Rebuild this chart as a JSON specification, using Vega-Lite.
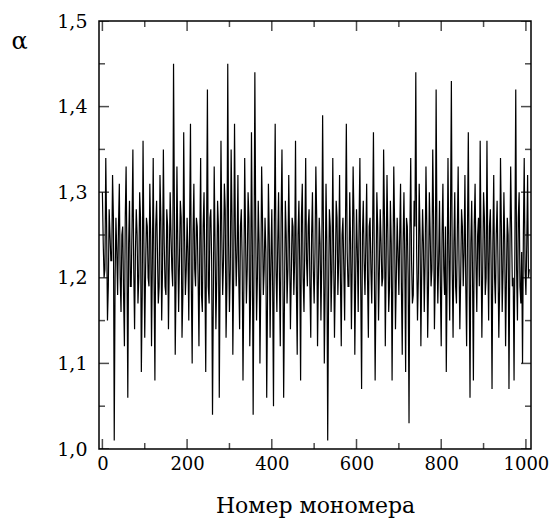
{
  "$schema": "https://vega.github.io/schema/vega-lite/v6.json",
  "width": 432,
  "height": 428,
  "autosize": "none",
  "padding": {"left": 99, "top": 21, "right": 19, "bottom": 71},
  "background": "white",
  "config": {
    "view": {"stroke": "black", "strokeWidth": 1.5},
    "axis": {"grid": false, "domain": false, "ticks": false, "labelFont": "DejaVu Serif", "labelColor": "black", "titleFont": "DejaVu Serif", "titleColor": "black", "titleFontWeight": "normal"}
  },
  "datasets": {
    "xticks": [{"v":0,"major":true},{"v":100,"major":false},{"v":200,"major":true},{"v":300,"major":false},{"v":400,"major":true},{"v":500,"major":false},{"v":600,"major":true},{"v":700,"major":false},{"v":800,"major":true},{"v":900,"major":false},{"v":1000,"major":true}],
    "yticks": [{"v":1.0,"major":true},{"v":1.05,"major":false},{"v":1.1,"major":true},{"v":1.15,"major":false},{"v":1.2,"major":true},{"v":1.25,"major":false},{"v":1.3,"major":true},{"v":1.35,"major":false},{"v":1.4,"major":true},{"v":1.45,"major":false},{"v":1.5,"major":true}],
    "series": [
    {"m":0,"a":1.30},{"m":4,"a":1.20},{"m":8,"a":1.34},{"m":12,"a":1.15},{"m":16,"a":1.28},{"m":20,"a":1.22},{"m":24,"a":1.32},{"m":28,"a":1.01},{"m":32,"a":1.27},{"m":36,"a":1.18},
    {"m":40,"a":1.31},{"m":44,"a":1.16},{"m":48,"a":1.26},{"m":52,"a":1.12},{"m":56,"a":1.33},{"m":60,"a":1.06},{"m":64,"a":1.29},{"m":68,"a":1.19},{"m":72,"a":1.35},{"m":76,"a":1.14},
    {"m":80,"a":1.28},{"m":84,"a":1.17},{"m":88,"a":1.30},{"m":92,"a":1.09},{"m":96,"a":1.36},{"m":100,"a":1.13},{"m":104,"a":1.27},{"m":108,"a":1.20},{"m":112,"a":1.31},{"m":116,"a":1.12},
    {"m":120,"a":1.34},{"m":124,"a":1.08},{"m":128,"a":1.29},{"m":132,"a":1.17},{"m":136,"a":1.32},{"m":140,"a":1.15},{"m":144,"a":1.35},{"m":148,"a":1.19},{"m":152,"a":1.28},{"m":156,"a":1.14},
    {"m":160,"a":1.30},{"m":164,"a":1.21},{"m":168,"a":1.45},{"m":172,"a":1.11},{"m":176,"a":1.33},{"m":180,"a":1.16},{"m":184,"a":1.29},{"m":188,"a":1.13},{"m":192,"a":1.37},{"m":196,"a":1.18},
    {"m":200,"a":1.27},{"m":204,"a":1.15},{"m":208,"a":1.38},{"m":212,"a":1.10},{"m":216,"a":1.31},{"m":220,"a":1.19},{"m":224,"a":1.26},{"m":228,"a":1.12},{"m":232,"a":1.34},{"m":236,"a":1.16},
    {"m":240,"a":1.30},{"m":244,"a":1.09},{"m":248,"a":1.42},{"m":252,"a":1.17},{"m":256,"a":1.28},{"m":260,"a":1.04},{"m":264,"a":1.33},{"m":268,"a":1.14},{"m":272,"a":1.29},{"m":276,"a":1.06},
    {"m":280,"a":1.36},{"m":284,"a":1.18},{"m":288,"a":1.31},{"m":292,"a":1.13},{"m":296,"a":1.45},{"m":300,"a":1.16},{"m":304,"a":1.35},{"m":308,"a":1.11},{"m":312,"a":1.38},{"m":316,"a":1.19},
    {"m":320,"a":1.32},{"m":324,"a":1.14},{"m":328,"a":1.28},{"m":332,"a":1.08},{"m":336,"a":1.34},{"m":340,"a":1.17},{"m":344,"a":1.30},{"m":348,"a":1.12},{"m":352,"a":1.37},{"m":356,"a":1.04},
    {"m":360,"a":1.44},{"m":364,"a":1.15},{"m":368,"a":1.29},{"m":372,"a":1.10},{"m":376,"a":1.33},{"m":380,"a":1.18},{"m":384,"a":1.27},{"m":388,"a":1.06},{"m":392,"a":1.31},{"m":396,"a":1.13},
    {"m":400,"a":1.28},{"m":404,"a":1.05},{"m":408,"a":1.38},{"m":412,"a":1.16},{"m":416,"a":1.30},{"m":420,"a":1.12},{"m":424,"a":1.35},{"m":428,"a":1.06},{"m":432,"a":1.29},{"m":436,"a":1.17},
    {"m":440,"a":1.32},{"m":444,"a":1.14},{"m":448,"a":1.27},{"m":452,"a":1.18},{"m":456,"a":1.36},{"m":460,"a":1.11},{"m":464,"a":1.29},{"m":468,"a":1.08},{"m":472,"a":1.31},{"m":476,"a":1.16},
    {"m":480,"a":1.34},{"m":484,"a":1.19},{"m":488,"a":1.28},{"m":492,"a":1.13},{"m":496,"a":1.30},{"m":500,"a":1.17},{"m":504,"a":1.33},{"m":508,"a":1.12},{"m":512,"a":1.27},{"m":516,"a":1.15},
    {"m":520,"a":1.39},{"m":524,"a":1.10},{"m":528,"a":1.31},{"m":532,"a":1.01},{"m":536,"a":1.28},{"m":540,"a":1.16},{"m":544,"a":1.34},{"m":548,"a":1.13},{"m":552,"a":1.29},{"m":556,"a":1.18},
    {"m":560,"a":1.32},{"m":564,"a":1.12},{"m":568,"a":1.27},{"m":572,"a":1.15},{"m":576,"a":1.38},{"m":580,"a":1.19},{"m":584,"a":1.30},{"m":588,"a":1.14},{"m":592,"a":1.33},{"m":596,"a":1.11},
    {"m":600,"a":1.28},{"m":604,"a":1.16},{"m":608,"a":1.34},{"m":612,"a":1.07},{"m":616,"a":1.29},{"m":620,"a":1.18},{"m":624,"a":1.31},{"m":628,"a":1.13},{"m":632,"a":1.27},{"m":636,"a":1.17},
    {"m":640,"a":1.37},{"m":644,"a":1.08},{"m":648,"a":1.30},{"m":652,"a":1.15},{"m":656,"a":1.28},{"m":660,"a":1.19},{"m":664,"a":1.35},{"m":668,"a":1.12},{"m":672,"a":1.32},{"m":676,"a":1.16},
    {"m":680,"a":1.29},{"m":684,"a":1.08},{"m":688,"a":1.33},{"m":692,"a":1.14},{"m":696,"a":1.27},{"m":700,"a":1.18},{"m":704,"a":1.31},{"m":708,"a":1.11},{"m":712,"a":1.30},{"m":716,"a":1.09},
    {"m":720,"a":1.26},{"m":724,"a":1.03},{"m":728,"a":1.34},{"m":732,"a":1.17},{"m":736,"a":1.29},{"m":740,"a":1.44},{"m":744,"a":1.15},{"m":748,"a":1.31},{"m":752,"a":1.12},{"m":756,"a":1.28},
    {"m":760,"a":1.16},{"m":764,"a":1.33},{"m":768,"a":1.13},{"m":772,"a":1.30},{"m":776,"a":1.19},{"m":780,"a":1.35},{"m":784,"a":1.14},{"m":788,"a":1.42},{"m":792,"a":1.17},{"m":796,"a":1.29},
    {"m":800,"a":1.12},{"m":804,"a":1.31},{"m":808,"a":1.18},{"m":812,"a":1.09},{"m":816,"a":1.34},{"m":820,"a":1.15},{"m":824,"a":1.43},{"m":828,"a":1.13},{"m":832,"a":1.30},{"m":836,"a":1.17},
    {"m":840,"a":1.33},{"m":844,"a":1.14},{"m":848,"a":1.28},{"m":852,"a":1.19},{"m":856,"a":1.32},{"m":860,"a":1.12},{"m":864,"a":1.37},{"m":868,"a":1.06},{"m":872,"a":1.29},{"m":876,"a":1.08},
    {"m":880,"a":1.31},{"m":884,"a":1.16},{"m":888,"a":1.27},{"m":892,"a":1.36},{"m":896,"a":1.13},{"m":900,"a":1.30},{"m":904,"a":1.18},{"m":908,"a":1.36},{"m":912,"a":1.15},{"m":916,"a":1.28},
    {"m":920,"a":1.07},{"m":924,"a":1.32},{"m":928,"a":1.17},{"m":932,"a":1.29},{"m":936,"a":1.13},{"m":940,"a":1.34},{"m":944,"a":1.16},{"m":948,"a":1.30},{"m":952,"a":1.12},{"m":956,"a":1.27},
    {"m":960,"a":1.07},{"m":964,"a":1.33},{"m":968,"a":1.19},{"m":972,"a":1.08},{"m":976,"a":1.42},{"m":980,"a":1.15},{"m":984,"a":1.30},{"m":988,"a":1.17},{"m":992,"a":1.10},{"m":996,"a":1.34},
    {"m":1000,"a":1.18},{"m":1004,"a":1.32},{"m":1008,"a":1.21},
    {"m":2,"a":1.24},{"m":6,"a":1.21},{"m":10,"a":1.26},{"m":14,"a":1.19},{"m":18,"a":1.25},{"m":22,"a":1.22},{"m":26,"a":1.27},{"m":30,"a":1.20},{"m":34,"a":1.23},{"m":38,"a":1.26},
    {"m":42,"a":1.20},{"m":46,"a":1.25},{"m":50,"a":1.18},{"m":54,"a":1.27},{"m":58,"a":1.22},{"m":62,"a":1.24},{"m":66,"a":1.19},{"m":70,"a":1.26},{"m":74,"a":1.21},{"m":78,"a":1.23},
    {"m":82,"a":1.25},{"m":86,"a":1.20},{"m":90,"a":1.27},{"m":94,"a":1.18},{"m":98,"a":1.24},{"m":102,"a":1.21},{"m":106,"a":1.26},{"m":110,"a":1.19},{"m":114,"a":1.25},{"m":118,"a":1.22},
    {"m":122,"a":1.20},{"m":126,"a":1.26},{"m":130,"a":1.23},{"m":134,"a":1.19},{"m":138,"a":1.27},{"m":142,"a":1.21},{"m":146,"a":1.24},{"m":150,"a":1.18},{"m":154,"a":1.26},{"m":158,"a":1.22},
    {"m":162,"a":1.25},{"m":166,"a":1.19},{"m":170,"a":1.28},{"m":174,"a":1.20},{"m":178,"a":1.24},{"m":182,"a":1.22},{"m":186,"a":1.27},{"m":190,"a":1.18},{"m":194,"a":1.25},{"m":198,"a":1.21},
    {"m":202,"a":1.23},{"m":206,"a":1.26},{"m":210,"a":1.19},{"m":214,"a":1.25},{"m":218,"a":1.21},{"m":222,"a":1.27},{"m":226,"a":1.20},{"m":230,"a":1.24},{"m":234,"a":1.18},{"m":238,"a":1.26},
    {"m":242,"a":1.21},{"m":246,"a":1.25},{"m":250,"a":1.19},{"m":254,"a":1.27},{"m":258,"a":1.22},{"m":262,"a":1.18},{"m":266,"a":1.24},{"m":270,"a":1.20},{"m":274,"a":1.26},{"m":278,"a":1.21},
    {"m":282,"a":1.25},{"m":286,"a":1.22},{"m":290,"a":1.28},{"m":294,"a":1.19},{"m":298,"a":1.24},{"m":302,"a":1.21},{"m":306,"a":1.27},{"m":310,"a":1.20},{"m":314,"a":1.25},{"m":318,"a":1.23},
    {"m":322,"a":1.20},{"m":326,"a":1.26},{"m":330,"a":1.22},{"m":334,"a":1.19},{"m":338,"a":1.25},{"m":342,"a":1.21},{"m":346,"a":1.27},{"m":350,"a":1.18},{"m":354,"a":1.24},{"m":358,"a":1.22},
    {"m":362,"a":1.26},{"m":366,"a":1.20},{"m":370,"a":1.24},{"m":374,"a":1.19},{"m":378,"a":1.27},{"m":382,"a":1.21},{"m":386,"a":1.23},{"m":390,"a":1.18},{"m":394,"a":1.25},{"m":398,"a":1.22},
    {"m":402,"a":1.19},{"m":406,"a":1.26},{"m":410,"a":1.21},{"m":414,"a":1.24},{"m":418,"a":1.20},{"m":422,"a":1.27},{"m":426,"a":1.22},{"m":430,"a":1.18},{"m":434,"a":1.25},{"m":438,"a":1.21},
    {"m":442,"a":1.24},{"m":446,"a":1.20},{"m":450,"a":1.26},{"m":454,"a":1.22},{"m":458,"a":1.19},{"m":462,"a":1.25},{"m":466,"a":1.21},{"m":470,"a":1.27},{"m":474,"a":1.20},{"m":478,"a":1.24},
    {"m":482,"a":1.22},{"m":486,"a":1.26},{"m":490,"a":1.19},{"m":494,"a":1.25},{"m":498,"a":1.21},{"m":502,"a":1.23},{"m":506,"a":1.27},{"m":510,"a":1.20},{"m":514,"a":1.24},{"m":518,"a":1.22},
    {"m":522,"a":1.25},{"m":526,"a":1.19},{"m":530,"a":1.24},{"m":534,"a":1.18},{"m":538,"a":1.26},{"m":542,"a":1.21},{"m":546,"a":1.23},{"m":550,"a":1.20},{"m":554,"a":1.27},{"m":558,"a":1.22},
    {"m":562,"a":1.20},{"m":566,"a":1.25},{"m":570,"a":1.21},{"m":574,"a":1.26},{"m":578,"a":1.23},{"m":582,"a":1.19},{"m":586,"a":1.24},{"m":590,"a":1.22},{"m":594,"a":1.27},{"m":598,"a":1.20},
    {"m":602,"a":1.23},{"m":606,"a":1.26},{"m":610,"a":1.19},{"m":614,"a":1.25},{"m":618,"a":1.22},{"m":622,"a":1.24},{"m":626,"a":1.20},{"m":630,"a":1.26},{"m":634,"a":1.21},{"m":638,"a":1.25},
    {"m":642,"a":1.22},{"m":646,"a":1.19},{"m":650,"a":1.26},{"m":654,"a":1.21},{"m":658,"a":1.24},{"m":662,"a":1.20},{"m":666,"a":1.27},{"m":670,"a":1.22},{"m":674,"a":1.25},{"m":678,"a":1.19},
    {"m":682,"a":1.24},{"m":686,"a":1.21},{"m":690,"a":1.26},{"m":694,"a":1.20},{"m":698,"a":1.23},{"m":702,"a":1.25},{"m":706,"a":1.19},{"m":710,"a":1.24},{"m":714,"a":1.22},{"m":718,"a":1.27},
    {"m":722,"a":1.20},{"m":726,"a":1.25},{"m":730,"a":1.22},{"m":734,"a":1.18},{"m":738,"a":1.26},{"m":742,"a":1.23},{"m":746,"a":1.20},{"m":750,"a":1.25},{"m":754,"a":1.21},{"m":758,"a":1.24},
    {"m":762,"a":1.22},{"m":766,"a":1.26},{"m":770,"a":1.19},{"m":774,"a":1.25},{"m":778,"a":1.21},{"m":782,"a":1.27},{"m":786,"a":1.20},{"m":790,"a":1.24},{"m":794,"a":1.22},{"m":798,"a":1.19},
    {"m":802,"a":1.25},{"m":806,"a":1.21},{"m":810,"a":1.26},{"m":814,"a":1.20},{"m":818,"a":1.23},{"m":822,"a":1.27},{"m":826,"a":1.21},{"m":830,"a":1.24},{"m":834,"a":1.19},{"m":838,"a":1.25},
    {"m":842,"a":1.22},{"m":846,"a":1.20},{"m":850,"a":1.26},{"m":854,"a":1.23},{"m":858,"a":1.19},{"m":862,"a":1.25},{"m":866,"a":1.21},{"m":870,"a":1.24},{"m":874,"a":1.20},{"m":878,"a":1.26},
    {"m":882,"a":1.22},{"m":886,"a":1.25},{"m":890,"a":1.19},{"m":894,"a":1.24},{"m":898,"a":1.21},{"m":902,"a":1.27},{"m":906,"a":1.20},{"m":910,"a":1.23},{"m":914,"a":1.26},{"m":918,"a":1.21},
    {"m":922,"a":1.24},{"m":926,"a":1.20},{"m":930,"a":1.25},{"m":934,"a":1.22},{"m":938,"a":1.19},{"m":942,"a":1.26},{"m":946,"a":1.21},{"m":950,"a":1.24},{"m":954,"a":1.20},{"m":958,"a":1.25},
    {"m":962,"a":1.22},{"m":966,"a":1.26},{"m":970,"a":1.20},{"m":974,"a":1.24},{"m":978,"a":1.21},{"m":982,"a":1.27},{"m":986,"a":1.19},{"m":990,"a":1.23},{"m":994,"a":1.25},{"m":998,"a":1.21},
    {"m":1002,"a":1.24},{"m":1006,"a":1.20}
  ]},
  "layer": [
    {
      "data": {"name": "series"},
      "mark": {"type": "line", "color": "black", "strokeWidth": 1.2, "clip": true},
      "encoding": {
        "x": {"field": "m", "type": "quantitative", "title": "Номер мономера", "scale": {"domain": [-8, 1012], "nice": false, "zero": false},
          "axis": {"orient": "bottom", "values": [0,200,400,600,800,1000], "format": "d",
            "labelPadding": 6, "labelFontSize": 18, "titleFontSize": 22, "titlePadding": 22}},
        "y": {"field": "a", "type": "quantitative", "title": "α", "scale": {"domain": [1.0, 1.5], "nice": false, "zero": false},
          "axis": {"orient": "left", "values": [1.0,1.1,1.2,1.3,1.4,1.5],
            "labelExpr": "replace(format(datum.value, '.1f'), '.', ',')",
            "labelPadding": 12, "labelFontSize": 19,
            "titleAngle": 0, "titleFontSize": 24, "titleX": -88, "titleY": 20, "titleAlign": "left", "titleBaseline": "middle"}}
      }
    },
    {
      "mark": {"type": "rule", "color": "black", "strokeWidth": 1.2},
      "encoding": {"y": {"datum": 1.225, "type": "quantitative", "title": "α"}}
    },
    {
      "data": {"name": "xticks"},
      "mark": {"type": "tick", "orient": "vertical", "color": "black", "thickness": 1.5, "clip": true},
      "encoding": {
        "x": {"field": "v", "type": "quantitative", "title": "Номер мономера"},
        "y": {"datum": 1.0, "type": "quantitative", "title": "α"},
        "size": {"condition": {"test": "datum.major", "value": 20}, "value": 12}
      }
    },
    {
      "data": {"name": "xticks"},
      "mark": {"type": "tick", "orient": "vertical", "color": "black", "thickness": 1.5, "clip": true},
      "encoding": {
        "x": {"field": "v", "type": "quantitative", "title": "Номер мономера"},
        "y": {"datum": 1.5, "type": "quantitative", "title": "α"},
        "size": {"condition": {"test": "datum.major", "value": 20}, "value": 12}
      }
    },
    {
      "data": {"name": "yticks"},
      "mark": {"type": "tick", "orient": "horizontal", "color": "black", "thickness": 1.5, "clip": true},
      "encoding": {
        "y": {"field": "v", "type": "quantitative", "title": "α"},
        "x": {"datum": -8, "type": "quantitative", "title": "Номер мономера"},
        "size": {"condition": {"test": "datum.major", "value": 20}, "value": 12}
      }
    },
    {
      "data": {"name": "yticks"},
      "mark": {"type": "tick", "orient": "horizontal", "color": "black", "thickness": 1.5, "clip": true},
      "encoding": {
        "y": {"field": "v", "type": "quantitative", "title": "α"},
        "x": {"datum": 1012, "type": "quantitative", "title": "Номер мономера"},
        "size": {"condition": {"test": "datum.major", "value": 20}, "value": 12}
      }
    }
  ]
}
